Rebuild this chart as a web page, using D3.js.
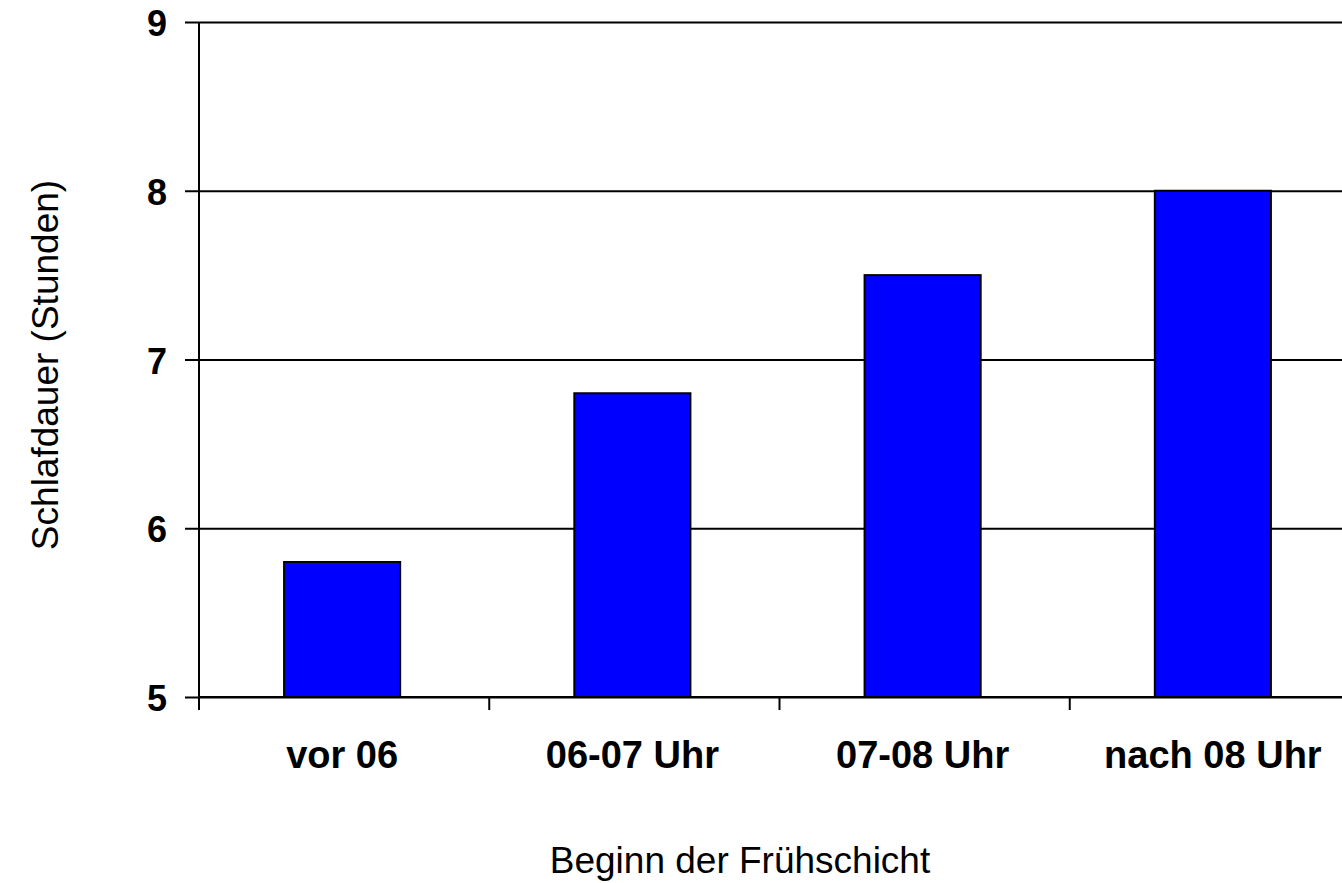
<!DOCTYPE html>
<html>

<head>
  <meta charset="utf-8">
  <style type="text/css">
    body {
      margin: 0;
      background: #fff;
      overflow: hidden;
    }
    svg {
      display: block;
      font-family: "Liberation Sans", Arial, sans-serif;
    }
  </style>
  <title>Schlafdauer</title>
</head>

<body>
  <script src="https://cdn.jsdelivr.net/npm/d3@7"></script>
  <script>
    var categories = ["vor 06", "06-07 Uhr", "07-08 Uhr", "nach 08 Uhr"];
    var values = [5.8, 6.8, 7.5, 8.0];
    var yTicks = [5, 6, 7, 8, 9];

    var margin = {
        top: 22,
        right: 0,
        bottom: 186,
        left: 199
      },
      width = 1161,
      height = 883 - margin.top - margin.bottom;

    var x = d3.scaleBand()
      .domain(categories)
      .range([0, width])
      .paddingInner(0.6)
      .paddingOuter(0.3);

    var xEdges = d3.scaleLinear()
      .domain([0, categories.length])
      .range([0, width]);

    var y = d3.scaleLinear()
      .domain([5, 9])
      .range([height, 0]);

    var svg = d3.select('body').append('svg')
      .attr("width", 1342)
      .attr("height", 883)
      .append("g")
      .attr("transform", "translate(" + margin.left + "," + margin.top + ")");

    // gridlines + y axis ticks
    var yAxis = d3.axisLeft(y)
      .tickValues(yTicks)
      .tickSize(-width)
      .tickFormat(d3.format("d"))
      .tickPadding(32);

    var gy = svg.append('g').call(yAxis);
    gy.select(".domain").remove();
    gy.selectAll(".tick line")
      .attr("x1", -14)
      .attr("stroke", "#000")
      .attr("stroke-width", 2);
    gy.selectAll(".tick text")
      .attr("font-size", 36)
      .attr("font-weight", "bold")
      .attr("fill", "#000")
      .attr("dy", "0.38em");

    svg.selectAll(".bar")
      .data(values)
      .enter().append("rect")
      .attr("class", "bar")
      .attr("x", (d, i) => x(categories[i]) - 2)
      .attr("width", x.bandwidth())
      .attr("y", d => y(d))
      .attr("height", d => y(5) - y(d))
      .attr("fill", "#0000ff")
      .attr("stroke", "#000")
      .attr("stroke-width", 2);

    // left axis line
    svg.append("line")
      .attr("x1", 0).attr("x2", 0)
      .attr("y1", 0).attr("y2", height)
      .attr("stroke", "#000")
      .attr("stroke-width", 2);

    // bottom axis line and band separators
    svg.append("line")
      .attr("x1", 0).attr("x2", width)
      .attr("y1", height).attr("y2", height)
      .attr("stroke", "#000")
      .attr("stroke-width", 2);

    svg.selectAll(".xtick")
      .data(d3.range(categories.length + 1))
      .enter().append("line")
      .attr("class", "xtick")
      .attr("x1", d => xEdges(d)).attr("x2", d => xEdges(d))
      .attr("y1", height).attr("y2", height + 13)
      .attr("stroke", "#000")
      .attr("stroke-width", 2);

    svg.selectAll(".xlabel")
      .data(categories)
      .enter().append("text")
      .attr("class", "xlabel")
      .attr("x", d => x(d) + x.bandwidth() / 2 - 2)
      .attr("y", height + 71)
      .attr("text-anchor", "middle")
      .attr("font-size", 38)
      .attr("font-weight", "bold")
      .text(d => d);

    svg.append("text")
      .attr("x", 541)
      .attr("y", 851)
      .attr("text-anchor", "middle")
      .attr("font-size", 37)
      .text("Beginn der Frühschicht");

    svg.append("text")
      .attr("transform", "translate(-141,343) rotate(-90)")
      .attr("text-anchor", "middle")
      .attr("font-size", 37)
      .text("Schlafdauer (Stunden)");
  </script>
</body>

</html>
